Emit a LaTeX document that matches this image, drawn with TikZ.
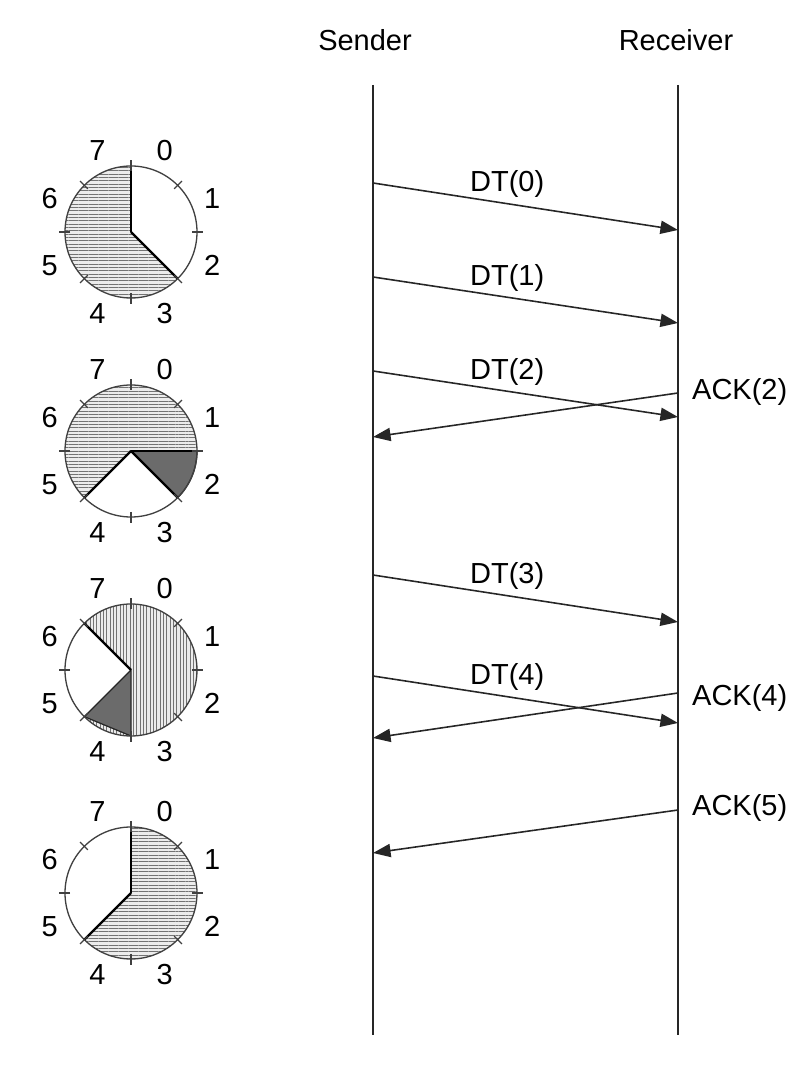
\documentclass[tikz,border=0pt]{standalone}
\usepackage{fontspec}
\setmainfont{Liberation Sans}
\usetikzlibrary{arrows.meta,patterns.meta}

\begin{document}
\begin{tikzpicture}[
    x=0.02cm, y=0.02cm,
    life/.style={line width=1.5pt, draw=black!85},
    msg/.style={line width=0.9pt, draw=black!85},
    >={Triangle[length=10pt, width=7.5pt]},
    tag/.style={inner sep=3pt},
    hatchH/.style={preaction={fill=gray!15}, pattern={Lines[angle=0, distance=1.9pt, line width=0.55pt]}, pattern color=black!55},
    hatchV/.style={preaction={fill=gray!15}, pattern={Lines[angle=90, distance=1.9pt, line width=0.55pt]}, pattern color=black!55},
    dark/.style={fill=black!58, draw=black!85, line width=0.7pt},
    rim/.style={draw=black!75, line width=0.75pt},
    spoke/.style={line width=1.4pt},
    font=\fontsize{16.5}{20}\selectfont
]
    \useasboundingbox (0,0) rectangle (810,1072);

    % 两条时间线
    \node (snd) at (365,1032) {Sender};
    \node (rcv) at (676,1032) {Receiver};
    \coordinate (sTop) at (373,987);
    \coordinate (sBot) at (373,37);
    \coordinate (rTop) at (678,987);
    \coordinate (rBot) at (678,37);
    \draw[life] (sTop) -- (sBot);
    \draw[life] (rTop) -- (rBot);

    % 报文端点
    \coordinate (s0) at (373,889); \coordinate (r0) at (678,842);
    \coordinate (s1) at (373,795); \coordinate (r1) at (678,749);
    \coordinate (s2) at (373,701); \coordinate (r2) at (678,655);
    \coordinate (a2) at (678,679); \coordinate (b2) at (373,635);
    \coordinate (s3) at (373,497); \coordinate (r3) at (678,450);
    \coordinate (s4) at (373,396); \coordinate (r4) at (678,349);
    \coordinate (a4) at (678,379); \coordinate (b4) at (373,334);
    \coordinate (a5) at (678,262); \coordinate (b5) at (373,219);

    % 1. 数据报文 DT
    \draw[msg, ->] (s0) -- node[tag, above, pos=0.44] (dt0) {DT(0)} (r0);
    \draw[msg, ->] (s1) -- node[tag, above, pos=0.44] (dt1) {DT(1)} (r1);
    \draw[msg, ->] (s2) -- node[tag, above, pos=0.44] (dt2) {DT(2)} (r2);
    \draw[msg, ->] (s3) -- node[tag, above, pos=0.44] (dt3) {DT(3)} (r3);
    \draw[msg, ->] (s4) -- node[tag, above, pos=0.44] (dt4) {DT(4)} (r4);

    % 2. 确认报文 ACK
    \draw[msg, ->] (a2) -- (b2);
    \draw[msg, ->] (a4) -- (b4);
    \draw[msg, ->] (a5) -- (b5);
    \node[anchor=west] (ack2) at (686,680) {ACK(2)};
    \node[anchor=west] (ack4) at (686,374) {ACK(4)};
    \node[anchor=west] (ack5) at (686,264) {ACK(5)};

    % 窗口圆盘中心
    \coordinate (C1) at (131,840);
    \coordinate (C2) at (131,621);
    \coordinate (C3) at (131,402);
    \coordinate (C4) at (131,179);

    % 圆盘 1
    \fill[hatchH] (C1) -- ++(90:66) arc[start angle=90, end angle=315, radius=66] -- cycle;
    \draw[rim] (C1) circle[radius=66];
    \draw[spoke] (C1) -- ++(90:66);
    \draw[spoke] (C1) -- ++(-45:66);

    % 圆盘 2
    \fill[hatchH] (C2) -- ++(0:66) arc[start angle=0, end angle=225, radius=66] -- cycle;
    \draw[dark] (C2) -- ++(-45:66) arc[start angle=-45, end angle=0, radius=66] -- cycle;
    \draw[rim] (C2) circle[radius=66];
    \draw[spoke] (C2) -- ++(0:66);
    \draw[spoke] (C2) -- ++(-45:66);
    \draw[spoke] (C2) -- ++(225:66);

    % 圆盘 3
    \fill[hatchV] (C3) -- ++(-90:66) arc[start angle=-90, end angle=135, radius=66] -- cycle;
    \fill[hatchV] (C3) ++(225:66) arc[start angle=225, end angle=270, radius=66] -- cycle;
    \draw[dark] (C3) -- ++(225:66) -- ([shift={(270:66)}]C3) -- cycle;
    \draw[rim] (C3) circle[radius=66];
    \draw[spoke] (C3) -- ++(135:66);

    % 圆盘 4
    \fill[hatchH] (C4) -- ++(-135:66) arc[start angle=-135, end angle=90, radius=66] -- cycle;
    \draw[rim] (C4) circle[radius=66];
    \draw[spoke] (C4) -- ++(90:66);
    \draw[spoke] (C4) -- ++(225:66);

    % 刻度与序号
    \foreach \c in {1,2,3,4} {
        \foreach \a in {0,45,...,315}
            \draw[rim] (C\c) ++(\a:61) -- ++(\a:11);
        \foreach \n in {0,...,7}
            \node (w\c-\n) at ([shift={({67.5-45*\n}:88)}]C\c) {\n};
    }

\end{tikzpicture}
\end{document}
